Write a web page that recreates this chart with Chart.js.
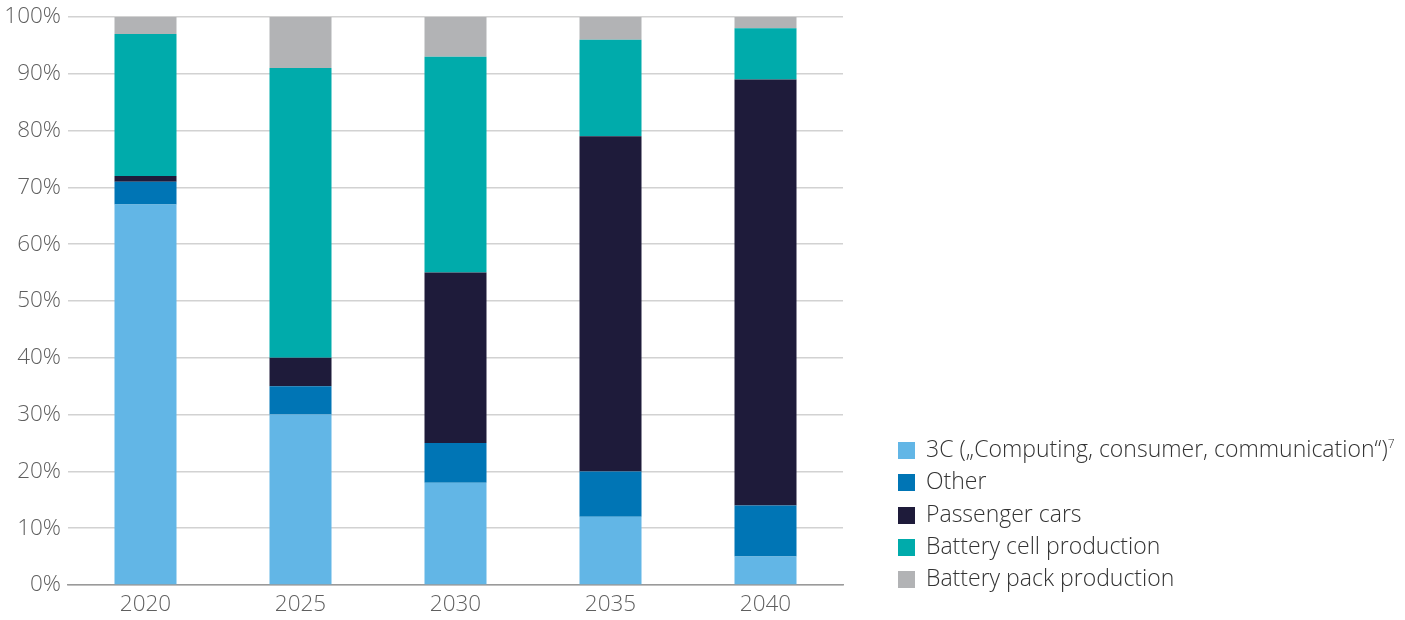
<!DOCTYPE html>
<html>
<head>
<meta charset="utf-8">
<script src="https://cdn.jsdelivr.net/npm/chart.js@4.4.1/dist/chart.umd.min.js"></script>
<style>
  html, body { margin: 0; padding: 0; background: #fff; }
  #wrap { position: relative; width: 1405px; height: 620px; }
  #legend { position: absolute; left: 898px; top: 432px; font-family: "Open Sans", sans-serif; font-weight: 300; font-size: 23px; color: #333333; }
  #legend div { height: 32.3px; line-height: 32.3px; white-space: nowrap; }
  #legend span.box { display: inline-block; width: 17px; height: 17px; margin-right: 11px; vertical-align: -2px; }
  #legend sup { font-size: 12px; vertical-align: 9px; line-height: 0; }
</style>
</head>
<body>
<div id="wrap">
  <canvas id="mychart" width="1405" height="620"></canvas>
  <div id="legend"></div>
</div>
<script>

var years = ['2020', '2025', '2030', '2035', '2040'];

// shares in percent, bottom segment first
var computing = [67, 30, 18, 12, 5];
var other = [4, 5, 7, 8, 9];
var passengerCars = [1, 5, 30, 59, 75];
var cellProduction = [25, 51, 38, 17, 9];
var packProduction = [3, 9, 7, 4, 2];

var yTicks = [0, 10, 20, 30, 40, 50, 60, 70, 80, 90, 100];

var series = [
  { label: '3C (\u201eComputing, consumer, communication\u201c)\u2077', data: computing, color: '#62b6e6' },
  { label: 'Other', data: other, color: '#0075b5' },
  { label: 'Passenger cars', data: passengerCars, color: '#1e1b3a' },
  { label: 'Battery cell production', data: cellProduction, color: '#00abab' },
  { label: 'Battery pack production', data: packProduction, color: '#b2b3b5' }
];

Chart.defaults.font.family = '"Open Sans", sans-serif';
Chart.defaults.font.weight = 300;

var ctx = document.getElementById('mychart').getContext('2d');

var myChart = new Chart(ctx, {
  type: 'bar',
  data: {
    labels: years,
    datasets: series.map(function(s) {
      return {
        label: s.label,
        data: s.data,
        backgroundColor: s.color,
        borderWidth: 0,
        categoryPercentage: 1,
        barPercentage: 0.4
      };
    })
  },
  options: {
    responsive: false,
    animation: false,
    layout: { padding: { top: 17, right: 562, bottom: 0, left: 0 } },
    plugins: {
      legend: { display: false },
      tooltip: { enabled: false }
    },
    scales: {
      x: {
        stacked: true,
        grid: { display: false, drawTicks: false },
        border: { display: true, color: '#9a9a9a', width: 1.5 },
        ticks: { color: '#5f5f5f', font: { size: 22.5, weight: 300 }, padding: 6 },
        afterFit: function(scale) { scale.height = 35; }
      },
      y: {
        stacked: true,
        min: 0,
        max: 100,
        afterBuildTicks: function(scale) {
          scale.ticks = yTicks.map(function(v) { return { value: v }; });
        },
        grid: { color: '#d2d2d2', lineWidth: 1.5, drawTicks: false },
        border: { display: false },
        ticks: {
          color: '#5f5f5f',
          font: { size: 22.5, weight: 300 },
          padding: 7,
          callback: function(v) { return v + '%'; }
        },
        afterFit: function(scale) {
          scale.width = 68;
          scale.paddingTop = 0;
          scale.paddingBottom = 0;
        }
      }
    }
  }
});

// legend in the free space right of the plot, built from the datasets
var legendEl = document.getElementById('legend');
myChart.data.datasets.forEach(function(ds) {
  var row = document.createElement('div');
  var box = document.createElement('span');
  box.className = 'box';
  box.style.background = ds.backgroundColor;
  row.appendChild(box);
  var txt = ds.label.replace('\u2077', '');
  row.appendChild(document.createTextNode(txt));
  if (ds.label.indexOf('\u2077') >= 0) {
    var sup = document.createElement('sup');
    sup.textContent = '7';
    row.appendChild(sup);
  }
  legendEl.appendChild(row);
});

</script>
</body>
</html>
